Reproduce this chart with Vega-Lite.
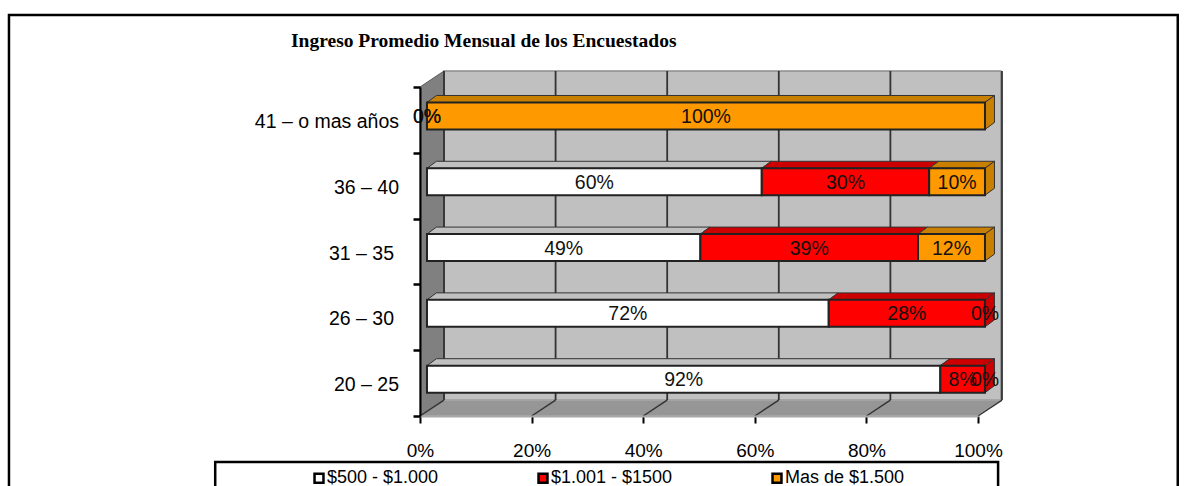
{"$schema":"https://vega.github.io/schema/vega-lite/v6.json","width":558,"height":329,"autosize":"none","padding":{"left":420,"top":87,"right":212,"bottom":70},"background":"white",
"config":{"font":"Liberation Sans","view":{"stroke":null}},
"title":{"text":"Ingreso Promedio Mensual de los Encuestados","anchor":"start","frame":"group","dx":-129,"offset":-38,"font":"Liberation Serif","fontSize":19.5,"fontWeight":"bold","color":"#000"},
"datasets":{
"filas":[
{"grupo":"41 – o mas años","ingreso":"$500 - $1.000","pct":0},{"grupo":"41 – o mas años","ingreso":"$1.001 - $1500","pct":0},{"grupo":"41 – o mas años","ingreso":"Mas de $1.500","pct":1},
{"grupo":"36 – 40","ingreso":"$500 - $1.000","pct":0.6},{"grupo":"36 – 40","ingreso":"$1.001 - $1500","pct":0.3},{"grupo":"36 – 40","ingreso":"Mas de $1.500","pct":0.1},
{"grupo":"31 – 35","ingreso":"$500 - $1.000","pct":0.49},{"grupo":"31 – 35","ingreso":"$1.001 - $1500","pct":0.39},{"grupo":"31 – 35","ingreso":"Mas de $1.500","pct":0.12},
{"grupo":"26 – 30","ingreso":"$500 - $1.000","pct":0.72},{"grupo":"26 – 30","ingreso":"$1.001 - $1500","pct":0.28},{"grupo":"26 – 30","ingreso":"Mas de $1.500","pct":0},
{"grupo":"20 – 25","ingreso":"$500 - $1.000","pct":0.92},{"grupo":"20 – 25","ingreso":"$1.001 - $1500","pct":0.08},{"grupo":"20 – 25","ingreso":"Mas de $1.500","pct":0}],
"cuadros":[{"cuadro":"exterior","x":-0.7366,"x2":1.358,"y":6.094,"y2":-1.2},{"cuadro":"leyenda","x":-0.367,"x2":1.036,"y":-0.7,"y2":-1.2}],
"pared":[{"x":0.043,"x2":1.041,"y":0.243,"y2":5.243}],
"lateral":[{"x":0,"y":0,"y2":5},{"x":0.043,"y":0.243,"y2":5.243}],
"piso":[{"y":0,"x":0,"x2":0.998},{"y":0.243,"x":0.043,"x2":1.041}],
"rejilla":[{"t":0},{"t":0.2},{"t":0.4},{"t":0.6},{"t":0.8},{"t":1}]
},
"layer":[
{"data":{"name":"cuadros"},"mark":{"type":"rect","fill":"white","stroke":"#000","strokeWidth":2.5},
 "encoding":{
  "x":{"field":"x","type":"quantitative","scale":{"domain":[0,1],"nice":false,"zero":false},"axis":{"title":null,"values":[0,0.2,0.4,0.6,0.8,1],"format":".0%","grid":false,"domainColor":"#a8a8a8","domainWidth":2,"tickColor":"#000","tickWidth":2,"tickSize":7,"labelFontSize":19,"labelColor":"#000","labelPadding":18,"labelFlush":false,"labelFont":"Liberation Sans","zindex":1}},
  "x2":{"field":"x2"},
  "y":{"field":"y","type":"quantitative","scale":{"domain":[0,5],"nice":false,"zero":false},"axis":{"title":null,"values":[0,1,2,3,4,5],"labels":false,"grid":false,"domainColor":"#000","domainWidth":2,"tickColor":"#000","tickWidth":2.5,"tickSize":7,"zindex":1}},
  "y2":{"field":"y2"}}},
{"data":{"name":"pared"},"mark":{"type":"rect","fill":"#c0c0c0","stroke":"#8c8c8c","strokeWidth":1.5},
 "encoding":{"x":{"field":"x","type":"quantitative"},"x2":{"field":"x2"},"y":{"field":"y","type":"quantitative"},"y2":{"field":"y2"}}},
{"data":{"name":"lateral"},"mark":{"type":"area","fill":"#808080","stroke":"#5a5a5a","strokeWidth":1},
 "encoding":{"x":{"field":"x","type":"quantitative"},"y":{"field":"y","type":"quantitative"},"y2":{"field":"y2"}}},
{"data":{"name":"piso"},"mark":{"type":"area","orient":"horizontal","fill":"#969696","stroke":"#b0b0b0","strokeWidth":1},
 "encoding":{"y":{"field":"y","type":"quantitative"},"x":{"field":"x","type":"quantitative"},"x2":{"field":"x2"}}},
{"data":{"name":"rejilla"},"transform":[{"calculate":"datum.t+0.043","as":"xb"},{"calculate":"0.243","as":"y0"},{"calculate":"5.243","as":"y1"}],
 "mark":{"type":"rule","color":"#333333","strokeWidth":1.8},
 "encoding":{"x":{"field":"xb","type":"quantitative"},"y":{"field":"y0","type":"quantitative"},"y2":{"field":"y1"}}},
{"data":{"name":"rejilla"},"transform":[{"calculate":"datum.t+0.043","as":"xb"},{"calculate":"0","as":"y0"},{"calculate":"0.243","as":"y1"}],
 "mark":{"type":"rule","color":"#333333","strokeWidth":1.5},
 "encoding":{"x":{"field":"t","type":"quantitative"},"x2":{"field":"xb"},"y":{"field":"y0","type":"quantitative"},"y2":{"field":"y1"}}},
{"data":{"name":"filas"},
 "transform":[
  {"calculate":"indexof(['$500 - $1.000','$1.001 - $1500','Mas de $1.500'],datum.ingreso)","as":"ord"},
  {"calculate":"indexof(['20 – 25','26 – 30','31 – 35','36 – 40','41 – o mas años'],datum.grupo)+0.5","as":"pos"},
  {"stack":"pct","groupby":["grupo"],"sort":[{"field":"ord","order":"ascending"}],"as":["a","b"]},
  {"calculate":"datum.a+0.0125","as":"xa"},
  {"calculate":"datum.b+0.0125","as":"xb"},
  {"calculate":"datum.pos+0.06-0.205","as":"y0"},
  {"calculate":"datum.pos+0.06+0.205","as":"y1"},
  {"calculate":"(datum.xa+datum.xb)/2","as":"xm"},
  {"calculate":"datum.pos+0.06","as":"ym"}
 ],
 "resolve":{"scale":{"fill":"independent"}},
 "layer":[
  {"transform":[{"filter":"datum.pct>0"},{"calculate":"[0,1]","as":"k"},{"flatten":["k"]},{"calculate":"datum.xa+datum.k*0.017","as":"tx"},{"calculate":"datum.xb+datum.k*0.017","as":"tx2"},{"calculate":"datum.y1+datum.k*0.106","as":"ty"}],
   "mark":{"type":"area","orient":"horizontal","stroke":"#333333","strokeWidth":1},
   "encoding":{"detail":{"field":"grupo"},"y":{"field":"ty","type":"quantitative"},"x":{"field":"tx","type":"quantitative"},"x2":{"field":"tx2"},
    "fill":{"field":"ingreso","type":"nominal","legend":null,"scale":{"domain":["$500 - $1.000","$1.001 - $1500","Mas de $1.500"],"range":["#c0c0c0","#cc0000","#c98000"]}}}},
  {"transform":[{"filter":"datum.pct>0 && datum.b>0.999"},{"calculate":"[0,1]","as":"k"},{"flatten":["k"]},{"calculate":"datum.xb+datum.k*0.017","as":"sx"},{"calculate":"datum.y0+datum.k*0.106","as":"sy"},{"calculate":"datum.y1+datum.k*0.106","as":"sy2"}],
   "mark":{"type":"area","stroke":"#333333","strokeWidth":1},
   "encoding":{"detail":{"field":"grupo"},"x":{"field":"sx","type":"quantitative"},"y":{"field":"sy","type":"quantitative"},"y2":{"field":"sy2"},
    "fill":{"field":"ingreso","type":"nominal","legend":null,"scale":{"domain":["$500 - $1.000","$1.001 - $1500","Mas de $1.500"],"range":["#c0c0c0","#cc0000","#c98000"]}}}},
  {"mark":{"type":"rect","stroke":"#222222","strokeWidth":2},
   "encoding":{"x":{"field":"xa","type":"quantitative"},"x2":{"field":"xb"},"y":{"field":"y0","type":"quantitative"},"y2":{"field":"y1"},
    "fill":{"field":"ingreso","type":"nominal","scale":{"domain":["$500 - $1.000","$1.001 - $1500","Mas de $1.500"],"range":["#ffffff","#ff0000","#ff9900"]},
     "legend":{"orient":"none","legendX":-110,"legendY":382,"title":null,"direction":"horizontal","columns":3,"columnPadding":94,"symbolType":"square","symbolSize":80,"symbolStrokeColor":"#000","symbolStrokeWidth":2.5,"symbolOpacity":1,"labelFontSize":18,"labelColor":"#000","labelOffset":-1,"labelFont":"Liberation Sans","labelLimit":300,"padding":0}}}},
  {"mark":{"type":"text","fontSize":19.5,"color":"#111","baseline":"middle","align":"center","dy":1},
   "encoding":{"x":{"field":"xm","type":"quantitative"},"y":{"field":"ym","type":"quantitative"},"text":{"field":"pct","type":"quantitative","format":".0%"}}},
  {"transform":[{"filter":"datum.ord==0 && datum.grupo!='31 – 35' && datum.grupo!='26 – 30'"}],
   "mark":{"type":"text","fontSize":19.5,"color":"#000","baseline":"middle","align":"right","dx":-21,"dy":2},
   "encoding":{"x":{"datum":0,"type":"quantitative"},"y":{"field":"pos","type":"quantitative"},"text":{"field":"grupo"}}},
  {"transform":[{"filter":"datum.ord==0 && (datum.grupo=='31 – 35' || datum.grupo=='26 – 30')"}],
   "mark":{"type":"text","fontSize":19.5,"color":"#000","baseline":"middle","align":"right","dx":-26,"dy":2},
   "encoding":{"x":{"datum":0,"type":"quantitative"},"y":{"field":"pos","type":"quantitative"},"text":{"field":"grupo"}}}
 ]}
]}
